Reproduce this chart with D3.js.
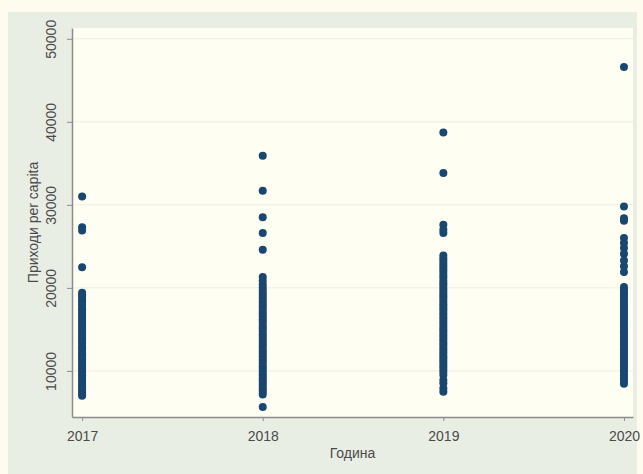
<!DOCTYPE html>
<html>
<head>
<meta charset="utf-8">
<script src="https://cdn.jsdelivr.net/npm/d3@7"></script>
<style>
  html, body { margin: 0; padding: 0; background: #fdfcee; }
  svg { display: block; }
  text { font-family: "Liberation Sans", Arial, sans-serif; fill: #4a4a4a; }
</style>
</head>
<body>
<svg id="chart" width="643" height="474"></svg>
<script>
// Years on the horizontal axis
const years = [2017, 2018, 2019, 2020];
const yearTicks = ["2017", "2018", "2019", "2020"];

// Income per capita observations by year
const values2017 = [31000, 27300, 26900, 22500,
  19420, 19150, 18930, 18610, 18400, 18090, 17850, 17520, 17300, 17010, 16760, 16480,
  16200, 15990, 15640, 15410, 15120, 14870, 14560, 14330, 14050, 13780, 13490, 13260,
  12940, 12710, 12450, 12130, 11900, 11620, 11370, 11080, 10840, 10550, 10290, 10010,
  9760, 9480, 9230, 8950, 8690, 8410, 8160, 7890, 7640, 7380, 7150, 7020];
const values2018 = [35900, 31700, 28500, 26600, 24600,
  21300, 20850, 20400, 20050, 19700, 19330, 19010, 18720, 18390, 18050, 17780, 17460,
  17130, 16870, 16540, 16220, 15960, 15640, 15330, 15070, 14750, 14420, 14160, 13840,
  13550, 13230, 12970, 12650, 12340, 12080, 11760, 11450, 11190, 10870, 10560, 10280,
  9980, 9690, 9410, 9120, 8840, 8560, 8290, 7980, 7720, 7450, 7150, 5650];
const values2019 = [38700, 33850, 27600, 27000, 26600,
  23900, 23550, 23240, 22900, 22580, 22250, 21900, 21560, 21240, 20900, 20560, 20270,
  19930, 19620, 19300, 18980, 18690, 18360, 18040, 17730, 17420, 17090, 16780, 16470,
  16150, 15840, 15520, 15210, 14900, 14580, 14280, 13960, 13650, 13330, 13020, 12710,
  12400, 12090, 11770, 11460, 11150, 10840, 10520, 10230, 9900, 9500, 8900, 8500, 7900, 7500];
const values2020 = [46600, 29800, 28400, 28100, 26000, 25400, 24800, 24100, 23300, 22600, 21900,
  20100, 19800, 19490, 19170, 18860, 18540, 18230, 17920, 17600, 17290, 16980, 16660,
  16350, 16040, 15720, 15410, 15090, 14780, 14470, 14150, 13840, 13520, 13210, 12890,
  12580, 12270, 11950, 11640, 11320, 11010, 10700, 10380, 10070, 9760, 9440, 9130,
  8820, 8450];
const seriesByYear = [values2017, values2018, values2019, values2020];

const incomeTicks = [10000, 20000, 30000, 40000, 50000];
const incomeTickLabels = ["10000", "20000", "30000", "40000", "50000"];

const xTitle = "Година";
const yTitle = "Приходи per capita";

const svg = d3.select("#chart");

// Graph region and plot region
const outer = { left: 8, top: 12, right: 637, bottom: 474 };
const plot = { left: 72, top: 28, right: 633, bottom: 417 };

svg.append("rect")
  .attr("x", outer.left).attr("y", outer.top)
  .attr("width", outer.right - outer.left).attr("height", outer.bottom - outer.top)
  .attr("fill", "#e9eee5");

svg.append("rect")
  .attr("x", plot.left).attr("y", plot.top)
  .attr("width", plot.right - plot.left).attr("height", plot.bottom - plot.top)
  .attr("fill", "#fffef2");

const x = d3.scaleLinear().domain([2016.944, 2020.05]).range([plot.left, plot.right]);
const y = d3.scaleLinear().domain([4450, 51300]).range([plot.bottom, plot.top]);

// Horizontal grid
svg.append("g")
  .selectAll("line")
  .data(incomeTicks)
  .join("line")
  .attr("x1", plot.left).attr("x2", plot.right)
  .attr("y1", d => y(d)).attr("y2", d => y(d))
  .attr("stroke", "#eceee2")
  .attr("stroke-width", 1);

// Points
const points = seriesByYear.flatMap((vals, i) => vals.map(v => ({ year: years[i], value: v })));
svg.append("g")
  .selectAll("circle")
  .data(points)
  .join("circle")
  .attr("cx", d => x(d.year))
  .attr("cy", d => y(d.value))
  .attr("r", 4)
  .attr("fill", "#1a476f");

// Y axis
const yAxis = svg.append("g")
  .attr("transform", `translate(${plot.left},0)`)
  .call(d3.axisLeft(y).tickValues(incomeTicks).tickFormat((d, i) => incomeTickLabels[i]).tickSize(5).tickSizeOuter(0));
yAxis.select(".domain").attr("stroke", "#8c8c8c").attr("stroke-width", 1.5);
yAxis.selectAll(".tick line").attr("stroke", "#8c8c8c");
yAxis.selectAll(".tick text")
  .attr("x", null).attr("dy", null)
  .attr("transform", "translate(-16,0) rotate(-90)")
  .attr("text-anchor", "middle")
  .style("font-size", "14px")
  .style("font-family", "'Liberation Sans', Arial, sans-serif")
  .attr("fill", "#4a4a4a");

// X axis
const xAxis = svg.append("g")
  .attr("transform", `translate(0,${plot.bottom})`)
  .call(d3.axisBottom(x).tickValues(years).tickFormat((d, i) => yearTicks[i]).tickSize(4).tickSizeOuter(0));
xAxis.select(".domain").attr("stroke", "#8c8c8c").attr("stroke-width", 1.5);
xAxis.selectAll(".tick line").attr("stroke", "#8c8c8c");
xAxis.selectAll(".tick text")
  .attr("y", 14)
  .style("font-size", "14px")
  .style("font-family", "'Liberation Sans', Arial, sans-serif")
  .attr("fill", "#4a4a4a");

// Axis titles
svg.append("text")
  .attr("x", (plot.left + plot.right) / 2)
  .attr("y", 458)
  .attr("text-anchor", "middle")
  .style("font-size", "14px")
  .text(xTitle);

svg.append("text")
  .attr("transform", `translate(38,${(plot.top + plot.bottom) / 2}) rotate(-90)`)
  .attr("text-anchor", "middle")
  .style("font-size", "14px")
  .text(yTitle);
</script>
</body>
</html>
